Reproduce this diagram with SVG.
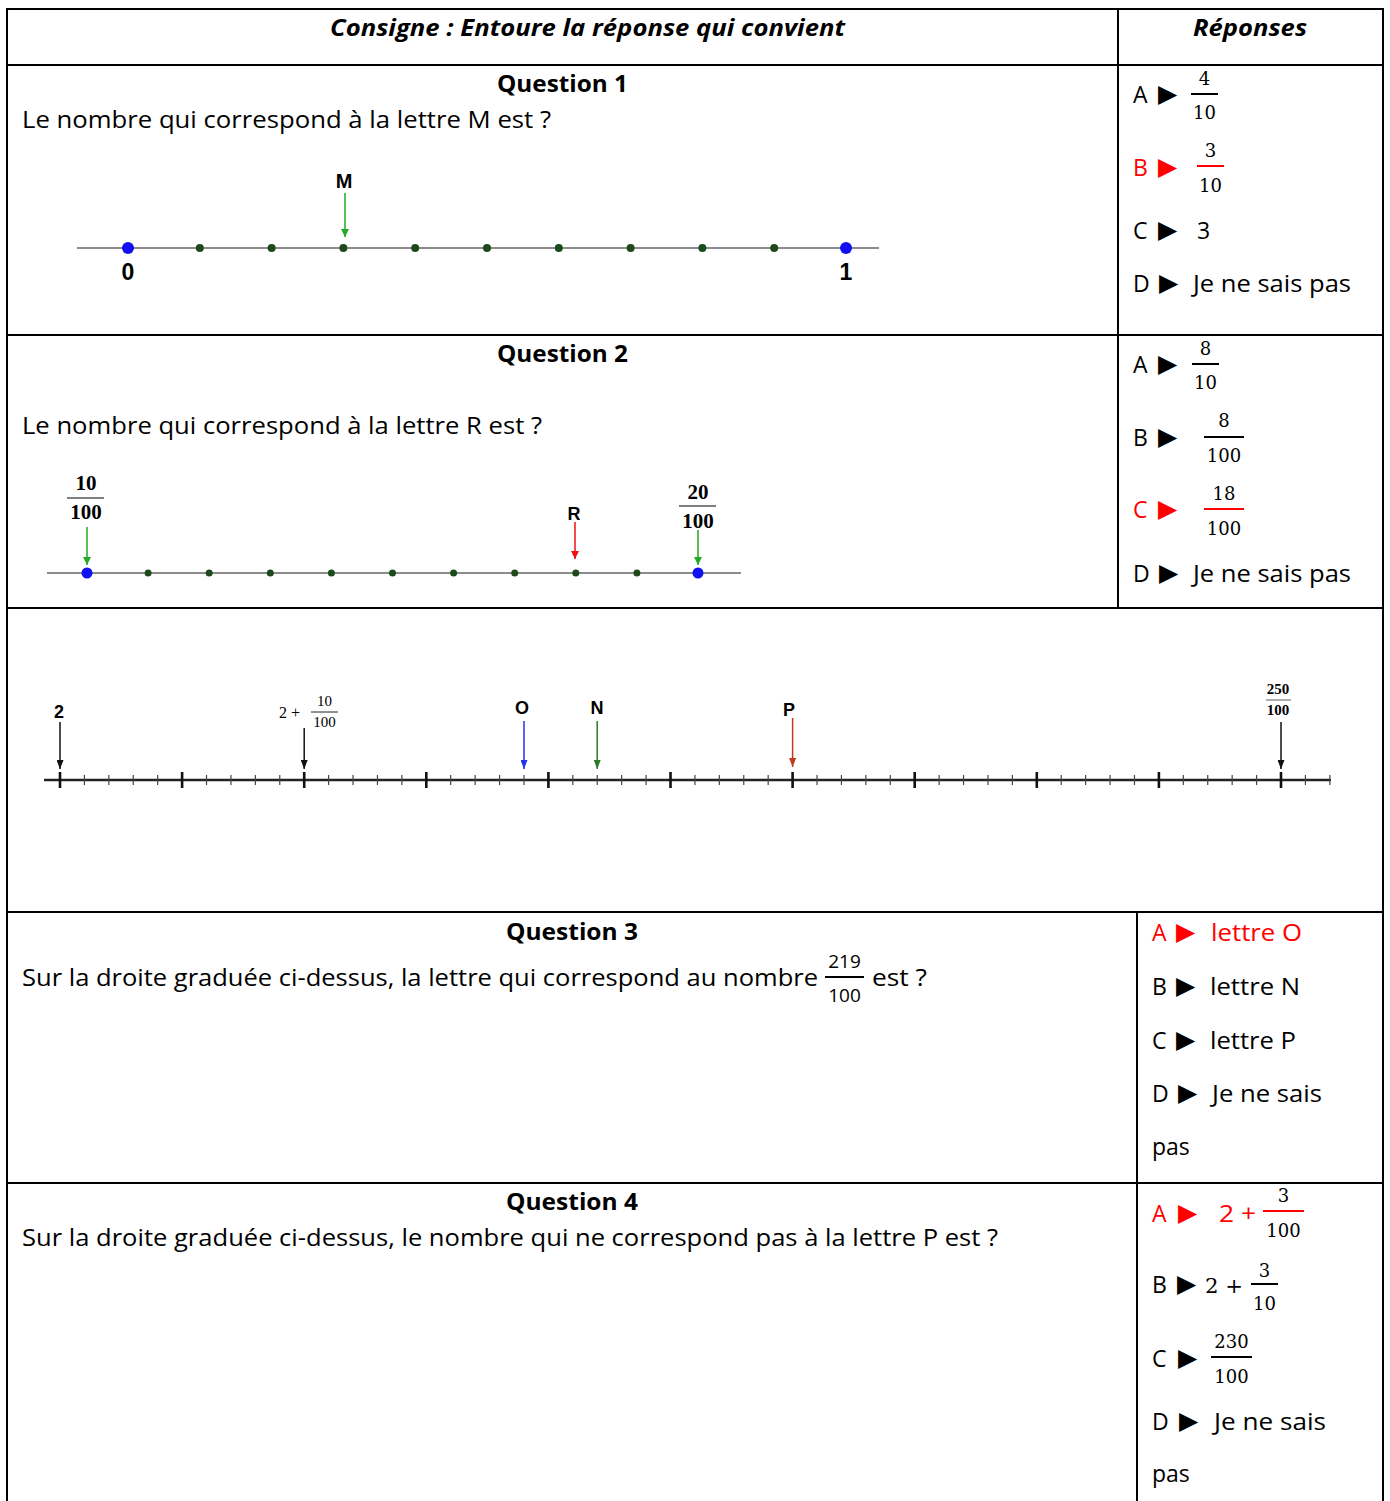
<svg xmlns="http://www.w3.org/2000/svg" width="1390" height="1501" viewBox="0 0 1390 1501">
<style>
.t{font-family:"Open Sans","Liberation Sans",sans-serif;font-size:23px;fill:#000}
.b{font-weight:bold}
.i{font-style:italic}
.r{fill:#ff0000}
.f{font-family:"DejaVu Serif","Liberation Serif",serif;font-size:18px;fill:#000;text-anchor:middle}
.tri{font-family:"DejaVu Sans",sans-serif;font-size:25px}
.g{font-family:"Liberation Sans",sans-serif;font-weight:bold;fill:#000;text-anchor:middle}
.gs{font-family:"Liberation Serif",serif;font-weight:bold;fill:#000;text-anchor:middle}
.grid line{stroke:#000;stroke-width:2}
.bar{stroke:#000;stroke-width:2}
.rbar{stroke:#ff0000;stroke-width:2}
.nl{stroke:#8c8c8c;stroke-width:2}
.dot{fill:#1c4a1c}
.bdot{fill:#1010f0}
</style>
<defs>
<marker id="ah-g" markerUnits="userSpaceOnUse" markerWidth="8" markerHeight="8" viewBox="0 0 8 8" refX="8" refY="4" orient="auto"><path d="M0,0 L8,4 L0,8 z" fill="#22aa22"/></marker>
<marker id="ah-r" markerUnits="userSpaceOnUse" markerWidth="8" markerHeight="8" viewBox="0 0 8 8" refX="8" refY="4" orient="auto"><path d="M0,0 L8,4 L0,8 z" fill="#ee1111"/></marker>
<marker id="ah-k" markerUnits="userSpaceOnUse" markerWidth="9" markerHeight="7" viewBox="0 0 9 7" refX="9" refY="3.5" orient="auto"><path d="M0,0 L9,3.5 L0,7 z" fill="#111"/></marker>
<marker id="ah-b" markerUnits="userSpaceOnUse" markerWidth="9" markerHeight="7" viewBox="0 0 9 7" refX="9" refY="3.5" orient="auto"><path d="M0,0 L9,3.5 L0,7 z" fill="#2233ee"/></marker>
<marker id="ah-n" markerUnits="userSpaceOnUse" markerWidth="9" markerHeight="7" viewBox="0 0 9 7" refX="9" refY="3.5" orient="auto"><path d="M0,0 L9,3.5 L0,7 z" fill="#2a7a2a"/></marker>
<marker id="ah-p" markerUnits="userSpaceOnUse" markerWidth="9" markerHeight="7" viewBox="0 0 9 7" refX="9" refY="3.5" orient="auto"><path d="M0,0 L9,3.5 L0,7 z" fill="#c0391b"/></marker>
</defs>
<rect width="1390" height="1501" fill="#fff"/>

<g id="table" class="grid">
<line x1="7" y1="9" x2="1383" y2="9"/>
<line x1="7" y1="8" x2="7" y2="1501"/>
<line x1="1383" y1="8" x2="1383" y2="1501"/>
<line x1="7" y1="65" x2="1383" y2="65"/>
<line x1="7" y1="335" x2="1383" y2="335"/>
<line x1="7" y1="608" x2="1383" y2="608"/>
<line x1="7" y1="912" x2="1383" y2="912"/>
<line x1="7" y1="1183" x2="1383" y2="1183"/>
<line x1="1118" y1="9" x2="1118" y2="608"/>
<line x1="1137" y1="912" x2="1137" y2="1501"/>
</g>

<g id="header">
<text class="t b i" x="587.5" y="36" text-anchor="middle" textLength="515" lengthAdjust="spacingAndGlyphs">Consigne : Entoure la réponse qui convient</text>
<text class="t b i" x="1250" y="36" text-anchor="middle" textLength="114" lengthAdjust="spacingAndGlyphs">Réponses</text>
</g>

<g id="question1">
<text class="t b" x="562.5" y="92" text-anchor="middle" textLength="131" lengthAdjust="spacingAndGlyphs">Question 1</text>
<text class="t" x="22" y="128" textLength="529" lengthAdjust="spacingAndGlyphs">Le nombre qui correspond à la lettre M est ?</text>
<line class="nl" x1="77" y1="248" x2="879" y2="248"/>
<circle class="bdot" cx="128" cy="248" r="6"/>
<circle class="bdot" cx="846" cy="248" r="6"/>
<circle class="dot" cx="199.8" cy="248" r="4"/>
<circle class="dot" cx="271.6" cy="248" r="4"/>
<circle class="dot" cx="343.4" cy="248" r="4"/>
<circle class="dot" cx="415.2" cy="248" r="4"/>
<circle class="dot" cx="487" cy="248" r="4"/>
<circle class="dot" cx="558.8" cy="248" r="4"/>
<circle class="dot" cx="630.6" cy="248" r="4"/>
<circle class="dot" cx="702.4" cy="248" r="4"/>
<circle class="dot" cx="774.2" cy="248" r="4"/>
<text class="g" x="344" y="188" font-size="20">M</text>
<text class="g" x="128" y="280" font-size="23">0</text>
<text class="g" x="846" y="280" font-size="23">1</text>
</g>

<g id="answers1">
<text class="t" x="1133" y="103">A</text><text class="t tri" x="1158" y="102">▶</text>
<text class="f" x="1204.5" y="85">4</text><line class="bar" x1="1191" y1="94" x2="1218" y2="94"/><text class="f" x="1204.5" y="119">10</text>
<text class="t r" x="1133" y="176">B</text><text class="t tri r" x="1158" y="175">▶</text>
<text class="f r" x="1210.5" y="157">3</text><line class="rbar" x1="1197" y1="166" x2="1224" y2="166"/><text class="f r" x="1210.5" y="192">10</text>
<text class="t" x="1133" y="239">C</text><text class="t tri" x="1158" y="238">▶</text>
<text class="t" x="1197" y="239">3</text>
<text class="t" x="1133" y="292">D</text><text class="t tri" x="1159" y="291">▶</text>
<text class="t" x="1193" y="292" textLength="158" lengthAdjust="spacingAndGlyphs">Je ne sais pas</text>
</g>

<g id="question2">
<text class="t b" x="562.5" y="362" text-anchor="middle" textLength="131" lengthAdjust="spacingAndGlyphs">Question 2</text>
<text class="t" x="22" y="434" textLength="520" lengthAdjust="spacingAndGlyphs">Le nombre qui correspond à la lettre R est ?</text>
<line class="nl" x1="47" y1="573" x2="741" y2="573"/>
<circle class="bdot" cx="87" cy="573" r="5.5"/>
<circle class="bdot" cx="698" cy="573" r="5.5"/>
<circle class="dot" cx="148.1" cy="573" r="3.5"/>
<circle class="dot" cx="209.2" cy="573" r="3.5"/>
<circle class="dot" cx="270.3" cy="573" r="3.5"/>
<circle class="dot" cx="331.4" cy="573" r="3.5"/>
<circle class="dot" cx="392.5" cy="573" r="3.5"/>
<circle class="dot" cx="453.6" cy="573" r="3.5"/>
<circle class="dot" cx="514.7" cy="573" r="3.5"/>
<circle class="dot" cx="575.8" cy="573" r="3.5"/>
<circle class="dot" cx="636.9" cy="573" r="3.5"/>
<text class="g" x="574" y="520" font-size="18">R</text>
<text class="gs" x="86" y="490" font-size="21">10</text>
<line x1="67" y1="498" x2="104" y2="498" stroke="#555" stroke-width="1.5"/>
<text class="gs" x="86" y="519" font-size="21">100</text>
<text class="gs" x="698" y="499" font-size="21">20</text>
<line x1="679" y1="506" x2="716" y2="506" stroke="#555" stroke-width="1.5"/>
<text class="gs" x="698" y="528" font-size="21">100</text>
</g>

<g id="answers2">
<text class="t" x="1133" y="373">A</text><text class="t tri" x="1158" y="372">▶</text>
<text class="f" x="1205.5" y="355">8</text><line class="bar" x1="1192" y1="364" x2="1219" y2="364"/><text class="f" x="1205.5" y="389">10</text>
<text class="t" x="1133" y="446">B</text><text class="t tri" x="1158" y="445">▶</text>
<text class="f" x="1224" y="427">8</text><line class="bar" x1="1204" y1="437" x2="1244" y2="437"/><text class="f" x="1224" y="462">100</text>
<text class="t r" x="1133" y="518">C</text><text class="t tri r" x="1158" y="517">▶</text>
<text class="f r" x="1224" y="500">18</text><line class="rbar" x1="1204" y1="509" x2="1244" y2="509"/><text class="f r" x="1224" y="535">100</text>
<text class="t" x="1133" y="582">D</text><text class="t tri" x="1159" y="581">▶</text>
<text class="t" x="1193" y="582" textLength="158" lengthAdjust="spacingAndGlyphs">Je ne sais pas</text>
</g>

<g id="graduated-line">
<line x1="44" y1="780" x2="1331" y2="780" stroke="#222" stroke-width="2.5"/>
<path d="M84.42 775v10M108.84 775v10M133.26 775v10M157.68 775v10M206.52 775v10M230.94 775v10M255.36 775v10M279.78 775v10M328.62 775v10M353.04 775v10M377.46 775v10M401.88 775v10M450.72 775v10M475.14 775v10M499.56 775v10M523.98 775v10M572.82 775v10M597.24 775v10M621.66 775v10M646.08 775v10M694.92 775v10M719.34 775v10M743.76 775v10M768.18 775v10M817.02 775v10M841.44 775v10M865.86 775v10M890.28 775v10M939.12 775v10M963.54 775v10M987.96 775v10M1012.38 775v10M1061.22 775v10M1085.64 775v10M1110.06 775v10M1134.48 775v10M1183.32 775v10M1207.74 775v10M1232.16 775v10M1256.58 775v10M1305.42 775v10M1329.84 775v10" stroke="#444" stroke-width="1.2" fill="none"/>
<path d="M60 772v16M182.1 772v16M304.2 772v16M426.3 772v16M548.4 772v16M670.5 772v16M792.6 772v16M914.7 772v16M1036.8 772v16M1158.9 772v16M1281 772v16" stroke="#111" stroke-width="2.6" fill="none"/>
<text class="g" x="59" y="718" font-size="18">2</text>
<text x="279" y="718" font-family="Liberation Serif,serif" font-size="16">2 +</text>
<text x="324.5" y="706" font-family="Liberation Serif,serif" font-size="15" text-anchor="middle">10</text>
<line x1="311" y1="712" x2="338" y2="712" stroke="#222" stroke-width="1"/>
<text x="324.5" y="727" font-family="Liberation Serif,serif" font-size="15" text-anchor="middle">100</text>
<text class="g" x="522" y="714" font-size="18">O</text>
<text class="g" x="597" y="714" font-size="18">N</text>
<text class="g" x="789" y="716" font-size="18">P</text>
<text class="gs" x="1278" y="694" font-size="15">250</text>
<line x1="1266" y1="700" x2="1291" y2="700" stroke="#777" stroke-width="1.2"/>
<text class="gs" x="1278" y="715" font-size="15">100</text>
</g>

<g id="question3">
<text class="t b" x="572" y="940" text-anchor="middle" textLength="132" lengthAdjust="spacingAndGlyphs">Question 3</text>
<text class="t" x="22" y="986" textLength="796" lengthAdjust="spacingAndGlyphs">Sur la droite graduée ci-dessus, la lettre qui correspond au nombre</text>
<text x="844.5" y="968" font-family="Open Sans,sans-serif" font-size="19" text-anchor="middle">219</text>
<line class="bar" x1="825" y1="977" x2="864" y2="977"/>
<text x="844.5" y="1002" font-family="Open Sans,sans-serif" font-size="19" text-anchor="middle">100</text>
<text class="t" x="872" y="986" textLength="55" lengthAdjust="spacingAndGlyphs">est ?</text>
</g>

<g id="answers3">
<text class="t r" x="1152" y="941">A</text><text class="t tri r" x="1176" y="940">▶</text>
<text class="t r" x="1211" y="941" textLength="91" lengthAdjust="spacingAndGlyphs">lettre O</text>
<text class="t" x="1152" y="995">B</text><text class="t tri" x="1176" y="994">▶</text>
<text class="t" x="1210" y="995" textLength="90" lengthAdjust="spacingAndGlyphs">lettre N</text>
<text class="t" x="1152" y="1049">C</text><text class="t tri" x="1176" y="1048">▶</text>
<text class="t" x="1210" y="1049" textLength="86" lengthAdjust="spacingAndGlyphs">lettre P</text>
<text class="t" x="1152" y="1102">D</text><text class="t tri" x="1178" y="1101">▶</text>
<text class="t" x="1212" y="1102" textLength="110" lengthAdjust="spacingAndGlyphs">Je ne sais</text>
<text class="t" x="1152" y="1155">pas</text>
</g>

<g id="question4">
<text class="t b" x="572" y="1210" text-anchor="middle" textLength="132" lengthAdjust="spacingAndGlyphs">Question 4</text>
<text class="t" x="22" y="1246" textLength="976" lengthAdjust="spacingAndGlyphs">Sur la droite graduée ci-dessus, le nombre qui ne correspond pas à la lettre P est ?</text>
</g>

<g id="answers4">
<text class="t r" x="1152" y="1222">A</text><text class="t tri r" x="1178" y="1221">▶</text>
<text class="t r" x="1219" y="1222" textLength="37" lengthAdjust="spacingAndGlyphs">2 +</text>
<text class="f r" x="1283.5" y="1202">3</text><line class="rbar" x1="1263" y1="1211" x2="1304" y2="1211"/><text class="f r" x="1283.5" y="1237">100</text>
<text class="t" x="1152" y="1293">B</text><text class="t tri" x="1177" y="1292">▶</text>
<text x="1205" y="1293" font-family="DejaVu Serif,serif" font-size="20" textLength="38" lengthAdjust="spacingAndGlyphs">2 +</text>
<text class="f" x="1264.5" y="1277">3</text><line class="bar" x1="1251" y1="1284" x2="1278" y2="1284"/><text class="f" x="1264.5" y="1310">10</text>
<text class="t" x="1152" y="1367">C</text><text class="t tri" x="1178" y="1366">▶</text>
<text class="f" x="1231.5" y="1348">230</text><line class="bar" x1="1211" y1="1357" x2="1252" y2="1357"/><text class="f" x="1231.5" y="1383">100</text>
<text class="t" x="1152" y="1430">D</text><text class="t tri" x="1179" y="1429">▶</text>
<text class="t" x="1214" y="1430" textLength="112" lengthAdjust="spacingAndGlyphs">Je ne sais</text>
<text class="t" x="1152" y="1482">pas</text>
</g>

<g id="connectors" fill="none" stroke-width="1.5">
<line x1="345" y1="193" x2="345" y2="237" stroke="#22aa22" marker-end="url(#ah-g)"/>
<line x1="87" y1="527" x2="87" y2="565" stroke="#22aa22" marker-end="url(#ah-g)"/>
<line x1="698" y1="530" x2="698" y2="565" stroke="#22aa22" marker-end="url(#ah-g)"/>
<line x1="575" y1="522" x2="575" y2="559" stroke="#ee1111" marker-end="url(#ah-r)"/>
<line x1="60" y1="722" x2="60" y2="769" stroke="#111" marker-end="url(#ah-k)"/>
<line x1="304.2" y1="728" x2="304.2" y2="769" stroke="#111" marker-end="url(#ah-k)"/>
<line x1="524" y1="721" x2="524" y2="769" stroke="#2233ee" marker-end="url(#ah-b)"/>
<line x1="597.2" y1="721" x2="597.2" y2="769" stroke="#2a7a2a" marker-end="url(#ah-n)"/>
<line x1="792.6" y1="718" x2="792.6" y2="767" stroke="#c0391b" marker-end="url(#ah-p)"/>
<line x1="1281" y1="722" x2="1281" y2="769" stroke="#111" marker-end="url(#ah-k)"/>
</g>
</svg>
